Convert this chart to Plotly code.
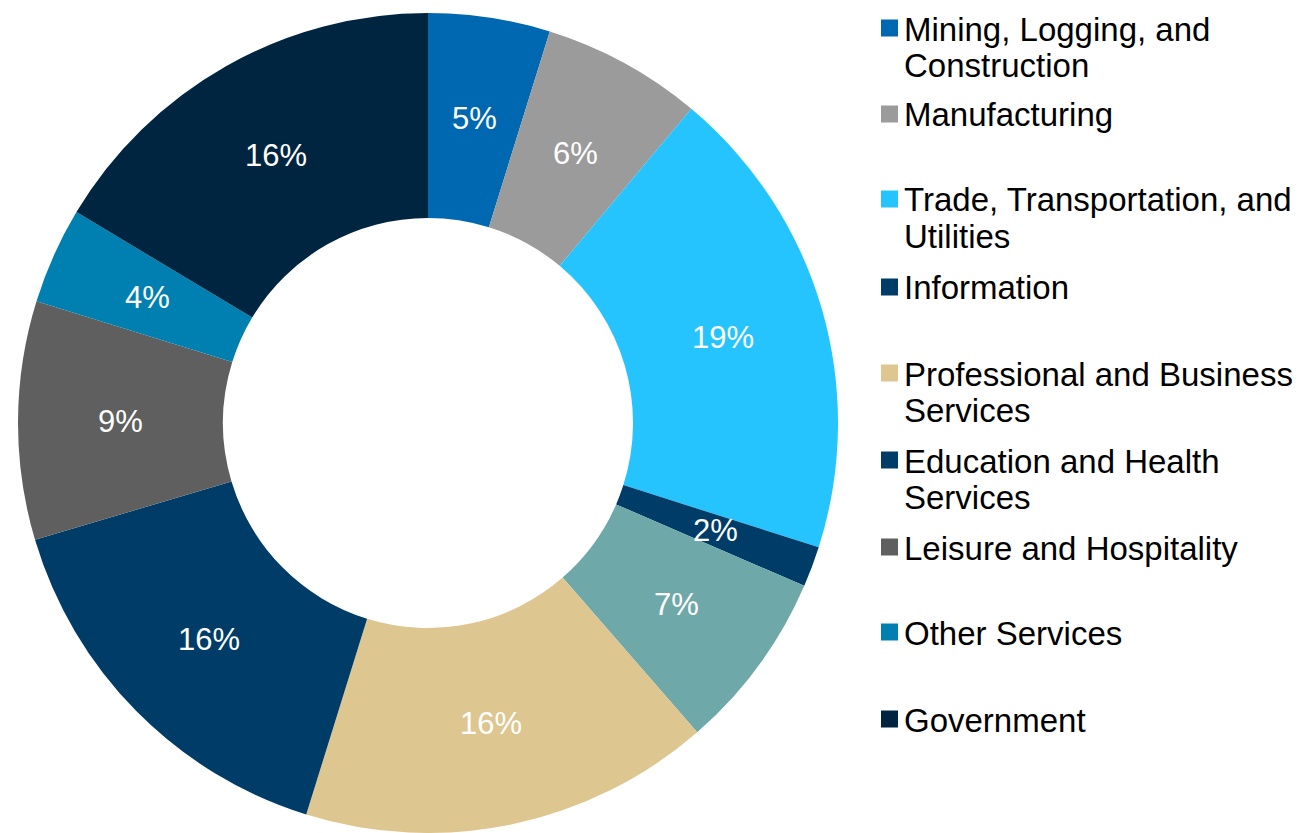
import math
import plotly.graph_objects as go

categories = [
    "Mining, Logging, and Construction",
    "Manufacturing",
    "Trade, Transportation, and Utilities",
    "Information",
    "Financial Activities",
    "Professional and Business Services",
    "Education and Health Services",
    "Leisure and Hospitality",
    "Other Services",
    "Government",
]
values = [4.8, 6.3, 18.8, 1.6, 7.1, 16.2, 15.6, 9.4, 3.8, 16.4]
colors = ["#0068B1", "#9B9B9B", "#25C4FF", "#003C68", "#6FA8A8",
          "#DDC690", "#003C68", "#5F5F5F", "#0080B0", "#002541"]

# Legend (Financial Activities is not listed in the original legend)
legend_items = [
    (0, ["Mining, Logging, and", "Construction"]),
    (1, ["Manufacturing"]),
    (2, ["Trade, Transportation, and", "Utilities"]),
    (3, ["Information"]),
    (5, ["Professional and Business", "Services"]),
    (6, ["Education and Health", "Services"]),
    (7, ["Leisure and Hospitality"]),
    (8, ["Other Services"]),
    (9, ["Government"]),
]

# page body has an 8px margin; figure sized to fill the rest of the window
W, H = 1295, 825
FONT = "Liberation Sans, Arial, sans-serif"

CX, CY, R_OUT = 420, 415, 410          # pie centre / radius in figure px
HOLE = 0.5
R_TEXT = R_OUT * (1 + HOLE) / 2        # labels at mid-ring radius

legend_rows_px = [21, 107, 192, 280, 366, 453, 540, 625, 712]


def px_x(x):
    return x / W


def px_y(y):
    return 1 - y / H


fig = go.Figure()
fig.add_trace(go.Pie(
    labels=categories,
    values=values,
    hole=HOLE,
    sort=False,
    direction="clockwise",
    rotation=0,
    marker=dict(colors=colors, line=dict(width=0)),
    textinfo="none",
    domain=dict(x=[(CX - R_OUT) / W, (CX + R_OUT) / W],
                y=[px_y(CY + R_OUT), px_y(CY - R_OUT)]),
    showlegend=False,
    hoverinfo="label+percent",
))

annotations = []
shapes = []

# slice labels at the middle of each ring segment
total = sum(values)
cum = 0.0
for v in values:
    frac = (cum + v / 2) / total
    theta = 2 * math.pi * frac
    x = CX + R_TEXT * math.sin(theta)
    y = CY - R_TEXT * math.cos(theta)
    annotations.append(dict(
        xref="paper", yref="paper", x=px_x(x), y=px_y(y),
        xanchor="center", yanchor="middle", showarrow=False,
        text=f"{round(100 * v / total)}%",
        font=dict(family=FONT, size=31, color="white"),
    ))
    cum += v

for (idx, lines), ytop in zip(legend_items, legend_rows_px):
    shapes.append(dict(
        type="rect", xref="paper", yref="paper",
        x0=px_x(873), x1=px_x(890), y0=px_y(ytop - 9.5), y1=px_y(ytop + 7.5),
        fillcolor=colors[idx], line=dict(width=0),
    ))
    for k, line in enumerate(lines):
        annotations.append(dict(
            xref="paper", yref="paper", x=px_x(894), y=px_y(ytop + 36 * k),
            xanchor="left", yanchor="middle", showarrow=False, text=line,
            font=dict(family=FONT, size=33, color="black"),
        ))

fig.update_layout(
    width=W, height=H,
    margin=dict(l=0, r=0, t=0, b=0),
    paper_bgcolor="white",
    plot_bgcolor="white",
    shapes=shapes,
    annotations=annotations,
)

fig.write_html("out.html")
